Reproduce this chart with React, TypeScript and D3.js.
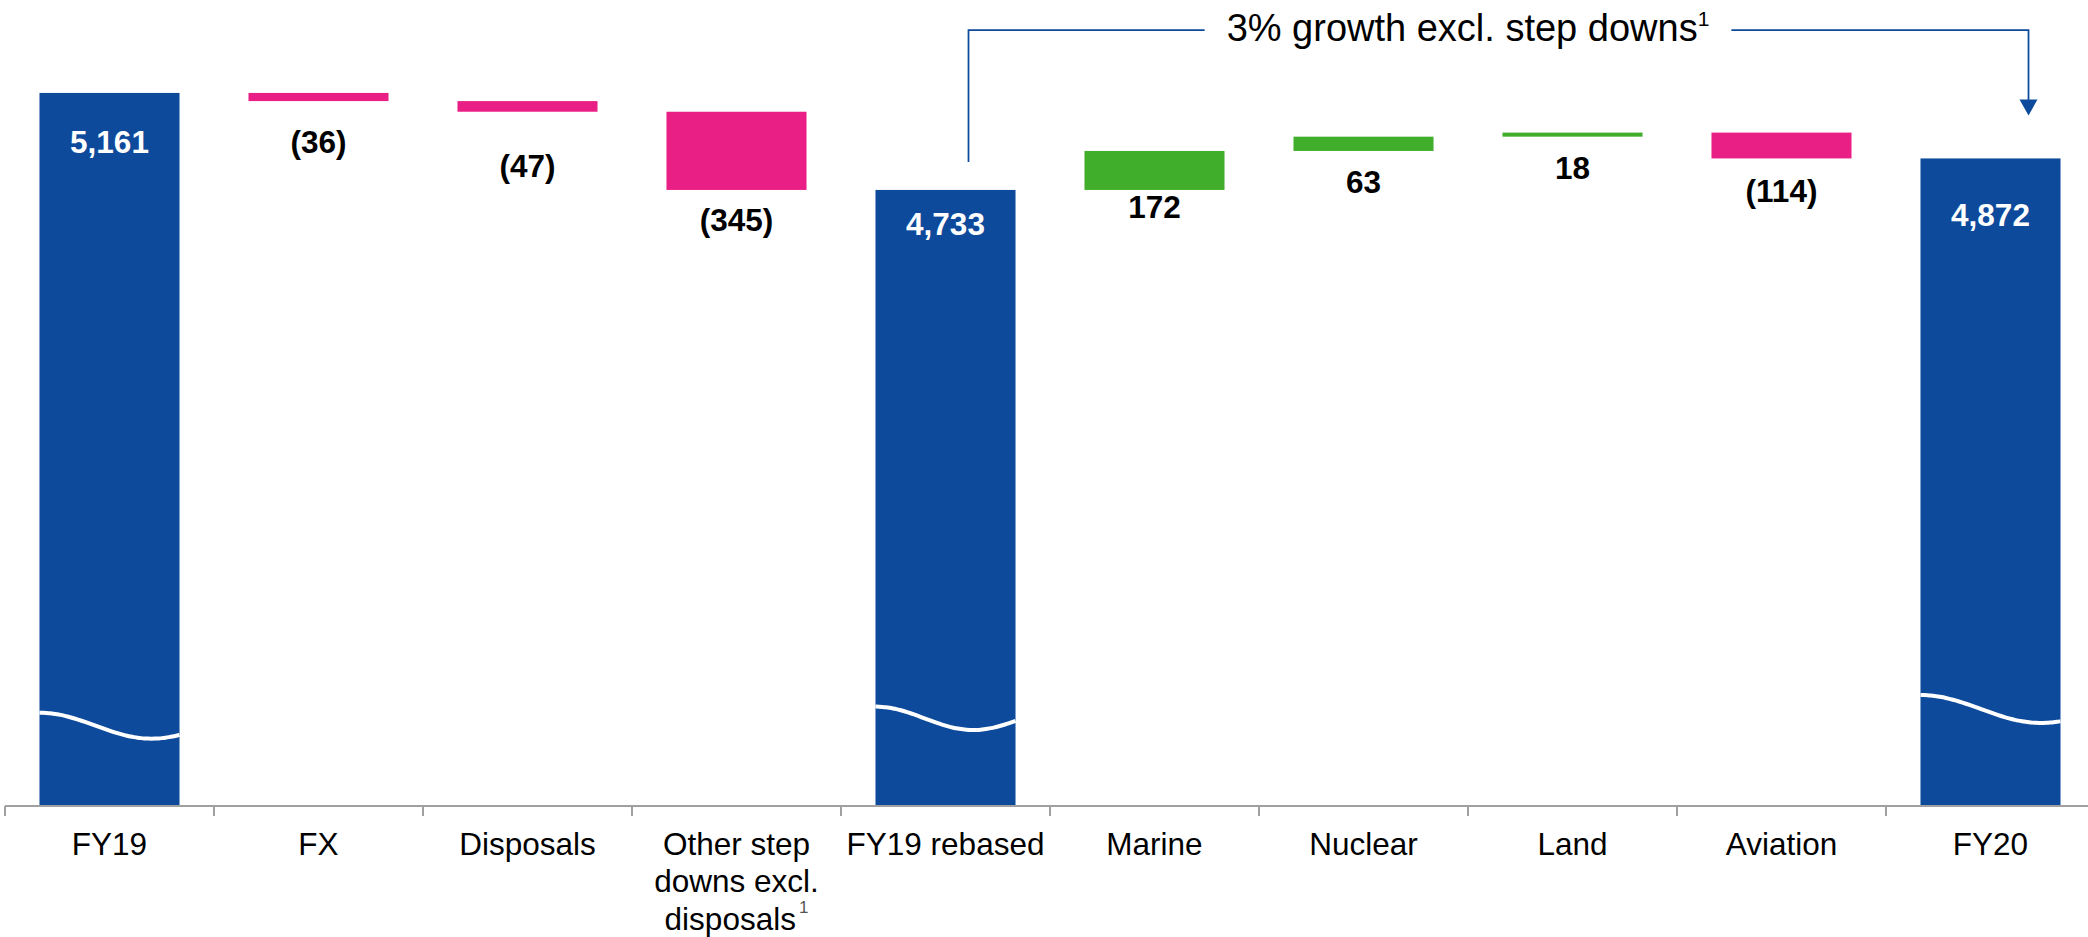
import { useEffect, useRef } from 'react';
import * as d3 from 'd3';

// data
const categories = [
  'FY19',
  'FX',
  'Disposals',
  'Other step downs excl. disposals',
  'FY19 rebased',
  'Marine',
  'Nuclear',
  'Land',
  'Aviation',
  'FY20',
];
const values = [5161, -36, -47, -345, 4733, 172, 63, 18, -114, 4872];
const totals = ['FY19', 'FY19 rebased', 'FY20'];
const footnoted = ['Other step downs excl. disposals'];
const labelLines: Record<string, string[]> = {
  'Other step downs excl. disposals': ['Other step', 'downs excl.', 'disposals'],
};
const annotationText = '3% growth excl. step downs';
const annotationFrom = 'FY19 rebased';
const annotationTo = 'FY20';

// layout
const W = 2088;
const H = 937;
const AXIS_Y = 806;
const labelDy = [60, 51.5, 65.5, 41, 45, 28, 42.3, 42.6, 43.2, 67.5];
const waves: Record<string, { mid: number; amp: number; turns: number }> = {
  FY19: { mid: 725.7, amp: 13, turns: 1.25 },
  'FY19 rebased': { mid: 718.3, amp: 11.7, turns: 1.43 },
  FY20: { mid: 709, amp: 14, turns: 1.16 },
};

const BLUE = '#0d4a9c';
const PINK = '#e91f85';
const GREEN = '#41ae2b';
const FONT = "'Liberation Sans', Arial, Helvetica, sans-serif";

const Waterfall = () => {
  const ref = useRef<SVGSVGElement | null>(null);

  useEffect(() => {
    const svg = d3.select(ref.current);
    svg.selectAll('*').remove();

    const x = d3
      .scaleBand<string>()
      .domain(categories)
      .range([5, 2095])
      .paddingInner(0.33)
      .paddingOuter(0.165);

    const y = d3.scaleLinear().domain([2015, 5571]).range([AXIS_Y, 0]);
    const base = y.domain()[0];
    const bw = x.bandwidth();

    let run = 0;
    const steps = categories.map((c, i) => {
      const v = values[i];
      if (totals.includes(c)) {
        run = v;
        return { c, v, i, start: base, end: v, total: true };
      }
      const s = { c, v, i, start: run, end: run + v, total: false };
      run += v;
      return s;
    });

    const fmt = d3.format(',');
    const g = svg.append('g');

    // bars
    g.selectAll('rect.bar')
      .data(steps)
      .join('rect')
      .attr('class', 'bar')
      .attr('x', d => x(d.c)!)
      .attr('width', bw)
      .attr('y', d => y(Math.max(d.start, d.end)))
      .attr('height', d => Math.abs(y(d.start) - y(d.end)))
      .attr('fill', d => (d.total ? BLUE : d.v < 0 ? PINK : GREEN));

    // axis break waves
    const wave = d3.line<[number, number]>().curve(d3.curveBasis);
    steps
      .filter(d => d.total)
      .forEach(d => {
        const p = waves[d.c];
        const x0 = x(d.c)!;
        const pts = d3
          .range(0, 1.0001, 0.025)
          .map(t => [x0 + t * bw, p.mid - p.amp * Math.cos(p.turns * Math.PI * t)] as [number, number]);
        g.append('path')
          .attr('d', wave(pts))
          .attr('fill', 'none')
          .attr('stroke', '#fff')
          .attr('stroke-width', 4);
      });

    // value labels
    g.selectAll('text.val')
      .data(steps)
      .join('text')
      .attr('class', 'val')
      .attr('x', d => x(d.c)! + bw / 2)
      .attr('y', d =>
        d.total ? y(d.end) + labelDy[d.i] : y(Math.min(d.start, d.end)) + labelDy[d.i]
      )
      .attr('text-anchor', 'middle')
      .attr('font-family', FONT)
      .attr('font-weight', 'bold')
      .attr('font-size', 31.5)
      .attr('fill', d => (d.total ? '#fff' : '#000'))
      .text(d => (d.v < 0 ? `(${fmt(-d.v)})` : fmt(d.v)));

    // axis
    const axis = svg.append('g');
    axis
      .append('line')
      .attr('x1', 5)
      .attr('x2', W)
      .attr('y1', AXIS_Y)
      .attr('y2', AXIS_Y)
      .attr('stroke', '#a0a0a0')
      .attr('stroke-width', 2);
    axis
      .selectAll('line.tick')
      .data(d3.range(categories.length + 1))
      .join('line')
      .attr('class', 'tick')
      .attr('x1', i => 5 + i * x.step())
      .attr('x2', i => 5 + i * x.step())
      .attr('y1', AXIS_Y)
      .attr('y2', AXIS_Y + 10)
      .attr('stroke', '#a0a0a0')
      .attr('stroke-width', 2);

    categories.forEach(c => {
      const lines = labelLines[c] ?? [c];
      const t = axis
        .append('text')
        .attr('text-anchor', 'middle')
        .attr('font-family', FONT)
        .attr('font-size', 31.5)
        .attr('fill', '#000');
      lines.forEach((ln, k) => {
        t.append('tspan')
          .attr('x', x(c)! + bw / 2)
          .attr('y', 855 + k * 37.3)
          .text(ln);
        if (k === lines.length - 1 && footnoted.includes(c)) {
          t.append('tspan')
            .attr('dx', 3)
            .attr('dy', -17)
            .attr('font-size', 17)
            .attr('fill', '#555')
            .text('1');
        }
      });
    });

    // growth annotation
    const xl = x(annotationFrom)! + bw / 2 + 23;
    const xr = x(annotationTo)! + bw / 2 + 38;
    const lineY = 30;
    const note = svg
      .append('text')
      .attr('x', 1468)
      .attr('y', 41)
      .attr('text-anchor', 'middle')
      .attr('font-family', FONT)
      .attr('font-size', 38)
      .attr('fill', '#000');
    note.append('tspan').text(annotationText);
    note.append('tspan').attr('dy', -15).attr('font-size', 21).text('1');
    const bb = (note.node() as SVGTextElement).getBBox();

    const ann = svg
      .append('g')
      .attr('fill', 'none')
      .attr('stroke', BLUE)
      .attr('stroke-width', 1.75);
    ann
      .append('path')
      .attr('d', `M${xl},${y(values[4]) - 28}V${lineY}H${bb.x - 22}`);
    ann
      .append('path')
      .attr('d', `M${bb.x + bb.width + 22},${lineY}H${xr}V${y(values[9]) - 58}`);
    svg
      .append('path')
      .attr('d', d3.line()([
        [xr - 9, y(values[9]) - 59],
        [xr + 9, y(values[9]) - 59],
        [xr, y(values[9]) - 43],
      ]) + 'Z')
      .attr('fill', BLUE);
  }, []);

  return (
    <svg
      ref={ref}
      width={W}
      height={H}
      style={{ position: 'absolute', left: 0, top: 0, background: '#fff' }}
    ></svg>
  );
};

export default function App() {
  return <Waterfall />;
}
